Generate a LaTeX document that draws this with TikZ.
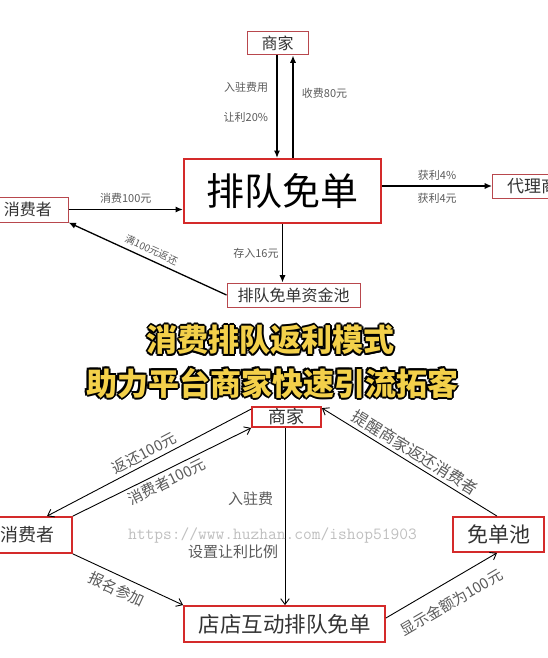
\documentclass[tikz,border=0pt]{standalone}
\usepackage{fontspec}
\setmainfont{Noto Sans CJK SC}
\usepackage{tikz}
\usetikzlibrary{arrows.meta, positioning, calc}

\definecolor{boxred}{HTML}{B8474D}
\definecolor{bigred}{HTML}{D42A2A}
\definecolor{textdark}{HTML}{333333}
\definecolor{labelgray}{HTML}{5A5A5A}
\definecolor{titlefill}{HTML}{F3D04A}

% one black copy of the title, shifted
\newcommand{\titlecopy}[3]{\makebox[0pt][l]{\hspace*{#1}\raisebox{#2}[0pt][0pt]{\textcolor{black}{#3}}}}
\newcommand{\outlined}[1]{%
  \titlecopy{2pt}{0pt}{#1}\titlecopy{-2pt}{0pt}{#1}%
  \titlecopy{0pt}{2pt}{#1}\titlecopy{0pt}{-2pt}{#1}%
  \titlecopy{1.4pt}{1.4pt}{#1}\titlecopy{-1.4pt}{1.4pt}{#1}%
  \titlecopy{1.4pt}{-1.4pt}{#1}\titlecopy{-1.4pt}{-1.4pt}{#1}%
  \textcolor{titlefill}{#1}}

\begin{document}
\begin{tikzpicture}[
  x=1pt, y=-1pt,
  block/.style = {draw=boxred, line width=1pt, inner sep=0pt, text=textdark, font=\fontsize{16}{16}\selectfont},
  bigblock/.style = {draw=bigred, line width=2.2pt, inner sep=0pt, text=black, font=\fontsize{38}{38}\selectfont},
  redblock/.style = {draw=bigred, line width=1.8pt, inner sep=0pt, text=textdark, font=\fontsize{19}{19}\selectfont},
  arrow/.style = {line width=1.3pt, -{Latex[length=2.6mm, width=2.2mm]}},
  thinarrow/.style = {line width=0.9pt, -{Straight Barb[length=2mm, width=3mm]}},
  tag/.style = {text=labelgray, font=\fontsize{11}{11}\selectfont},
  bigtag/.style = {text=labelgray, font=\fontsize{15}{15}\selectfont},
  headline/.style = {font=\fontsize{31}{31}\selectfont\bfseries, inner sep=0pt}
]
\useasboundingbox (0,0) rectangle (547,658);

% ======================================================
% Upper chart: merchant, queue, consumer, pool, agent
% ======================================================
\node[block, minimum width=61pt, minimum height=23pt] (merchant) at (277.5,43.5) {商家};
\node[bigblock, minimum width=197pt, minimum height=64pt] (queue) at (282.5,191) {排队免单};
\node[block, minimum width=80pt, minimum height=25pt] (consumer) at (28,209.5) {消费者};
\node[block, minimum width=133pt, minimum height=24pt] (pool) at (293.5,295) {排队免单资金池};
\node[block, minimum width=80pt, minimum height=24pt, anchor=west, font=\fontsize{17}{17}\selectfont] (agent) at (492,186) {代理商};

% merchant <-> queue
\draw[arrow] ([xshift=-0.5pt]merchant.south) -- ([xshift=-0.5pt]merchant.south |- queue.north)
  node[tag, pos=0.31, left=5pt] {入驻费用}
  node[tag, pos=0.6, left=5pt] {让利20\%};
\draw[arrow] ([xshift=15.5pt]merchant.south |- queue.north) -- ([xshift=15.5pt]merchant.south)
  node[tag, pos=0.63, right=5pt] {收费80元};

% consumer -> queue
\draw[arrow] (consumer.east) -- (consumer.east -| queue.west)
  node[tag, midway, above=2pt] {消费100元};

% queue -> pool
\draw[arrow] (queue.south) -- (queue.south |- pool.north)
  node[tag, midway, left] {存入16元};

% pool -> consumer
\draw[arrow] (pool.west) -- (consumer.south east)
  node[tag, midway, above=1pt, sloped, font=\fontsize{10}{10}\selectfont] {满100元返还};

% queue -> agent
\draw[arrow] (queue.east |- agent.west) -- (agent.west)
  node[tag, midway, above=2pt] {获利4\%}
  node[tag, midway, below=3pt] {获利4元};

% ======================================================
% Lower chart: merchant, consumer, free pool, shop queue
% ======================================================
\node[redblock, minimum width=69pt, minimum height=20pt, font=\fontsize{18}{18}\selectfont] (merchantB) at (286.5,417) {商家};
\node[redblock, minimum width=90pt, minimum height=36pt, font=\fontsize{18}{18}\selectfont] (consumerB) at (27,535) {消费者};
\node[redblock, minimum width=91pt, minimum height=35pt, font=\fontsize{21}{21}\selectfont] (freepool) at (498.5,534.5) {免单池};
\node[redblock, minimum width=201pt, minimum height=36pt, font=\fontsize{21.5}{21.5}\selectfont] (store) at (284.5,624) {店店互动排队免单};

% merchant <-> consumer
\draw[thinarrow] ([yshift=-3pt]merchantB.north west) -- ([xshift=20pt]consumerB.north)
  node[bigtag, midway, above, sloped] {返还100元};
\draw[thinarrow] (consumerB.north east) -- (merchantB.south west)
  node[bigtag, midway, below, sloped] {消费者100元};

% free pool -> merchant
\draw[thinarrow] ([xshift=-1.5pt]freepool.north) -- ([yshift=-2pt]merchantB.north east)
  node[bigtag, midway, above, sloped, font=\fontsize{16}{16}\selectfont] {提醒商家返还消费者};

% merchant -> shop queue
\draw[thinarrow] ([xshift=-1.5pt]merchantB.south) -- ([xshift=-1.5pt]merchantB.south |- store.north)
  node[bigtag, pos=0.4, left=8pt] {入驻费}
  node[bigtag, pos=0.7, left=3pt] {设置让利比例};

% consumer -> shop queue -> free pool
\draw[thinarrow] (consumerB.south east) -- (store.north west)
  node[bigtag, pos=0.45, below=3pt, sloped] {报名参加};
\draw[thinarrow] ([yshift=6pt]store.east) -- ([xshift=-1.5pt]freepool.south)
  node[bigtag, midway, below=9pt, sloped] {显示金额为100元};

% watermark
\node[text=black!25, font=\fontsize{17}{17}\ttfamily] (mark) at (272.5,535) {https://www.huzhan.com/ishop51903};

% ======================================================
% Headline over both charts
% ======================================================
\node[headline] (title1) at (270.5,340) {\outlined{消费排队返利模式}};
\node[headline] (title2) at (272,383) {\outlined{助力平台商家快速引流拓客}};
\end{tikzpicture}
\end{document}
